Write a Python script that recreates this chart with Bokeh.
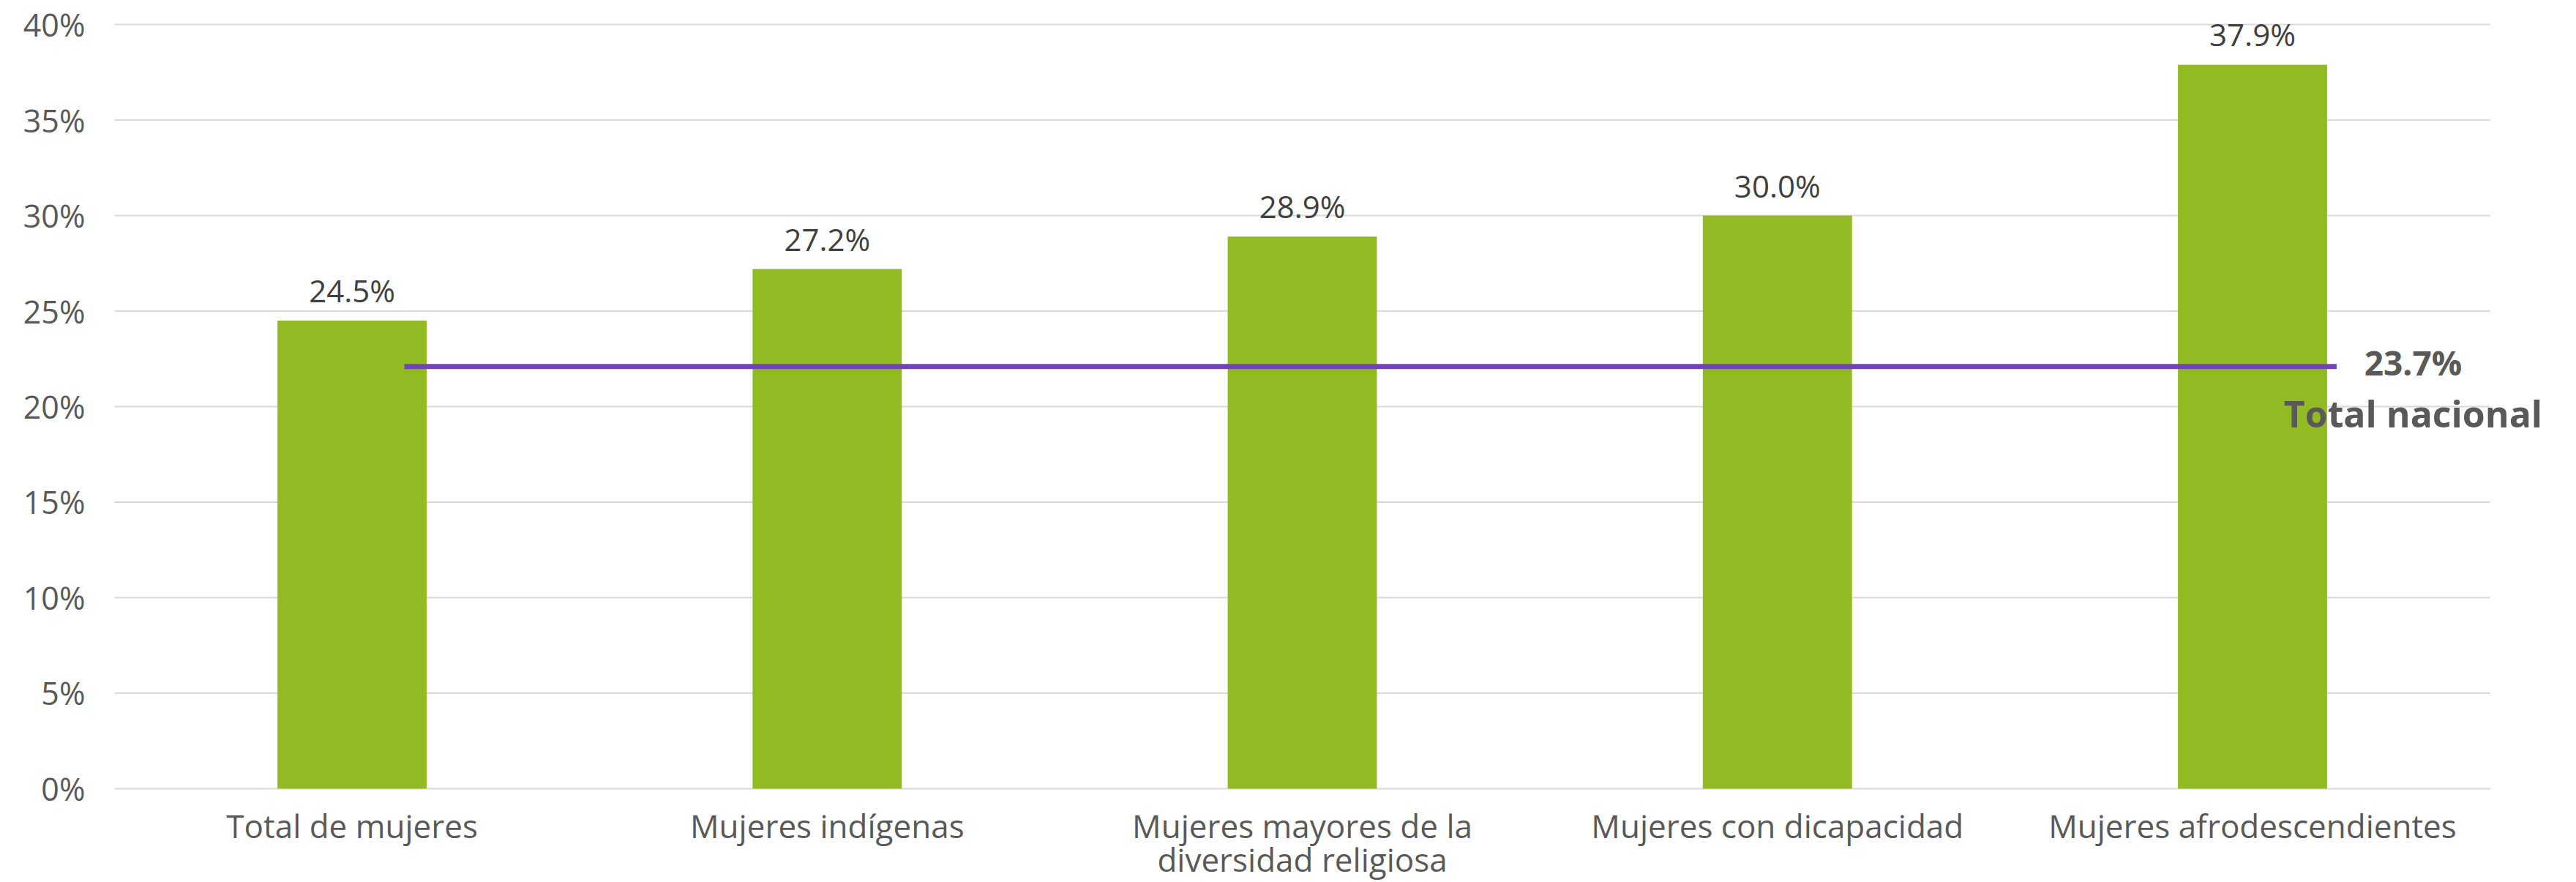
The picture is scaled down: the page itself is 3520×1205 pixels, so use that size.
from bokeh.plotting import figure
from bokeh.models import Range1d, FixedTicker, PrintfTickFormatter, ColumnDataSource, Label
from bokeh.core.properties import value
from bokeh.embed import file_html
from bokeh.resources import INLINE

categories = ["Total de mujeres", "Mujeres indígenas", "Mujeres mayores de la\ndiversidad religiosa",
              "Mujeres con dicapacidad", "Mujeres afrodescendientes"]
values = [24.5, 27.2, 28.9, 30.0, 37.9]
value_labels = ["24.5%", "27.2%", "28.9%", "30.0%", "37.9%"]
nacional_label = "23.7%"
nacional_line_level = 22.1  # level at which the reference line is drawn in the picture
y_ticks = [0, 5, 10, 15, 20, 25, 30, 35, 40]

FONT = "Open Sans"
TXT = "#595959"

n = len(categories)
xpos = [i + 0.5 for i in range(n)]

p = figure(x_range=Range1d(0, 5.12), y_range=Range1d(-4.91, 40.77),
           width=3520, height=1205, output_backend="svg", toolbar_location=None,
           x_axis_location=None,
           min_border_left=156, min_border_right=40, min_border_top=13, min_border_bottom=0)
p.outline_line_color = None
p.background_fill_color = "white"
p.xgrid.grid_line_color = None
p.ygrid.grid_line_color = None

# horizontal gridlines spanning only the category area
p.segment(x0=[0] * len(y_ticks), x1=[n] * len(y_ticks), y0=y_ticks, y1=y_ticks,
          line_color="#D9D9D9", line_width=2)

p.yaxis.ticker = FixedTicker(ticks=y_ticks)
p.yaxis.formatter = PrintfTickFormatter(format="%d%%")
ax = p.yaxis
ax.axis_line_color = None
ax.major_tick_line_color = None
ax.minor_tick_line_color = None
ax.major_tick_out = 0
ax.major_tick_in = 0
ax.major_label_text_font = FONT
ax.major_label_text_font_size = "43px"
ax.major_label_text_color = TXT
ax.major_label_standoff = 40

# category labels under the baseline
p.text(x=xpos, y=[0] * n, text=categories, y_offset=21, text_align="center",
       text_baseline="top", text_font=value(FONT), text_font_size="44px",
       text_color=TXT, text_line_height=0.76)

src = ColumnDataSource(dict(x=xpos, y=values, lbl=value_labels))
p.vbar(x="x", top="y", width=0.314, source=src, fill_color="#92BB23", line_color=None)
p.text(x="x", y="y", text="lbl", source=src, y_offset=-13, text_align="center",
       text_baseline="bottom", text_font=value(FONT), text_font_size="42px",
       text_color="#404040")

p.line(x=[xpos[0] + 0.11, xpos[-1] + 0.177], y=[nacional_line_level, nacional_line_level],
       line_color="#7442B8", line_width=7)

p.add_layout(Label(x=xpos[-1] + 0.338, y=nacional_line_level, y_offset=6, text=nacional_label,
                   text_align="center", text_baseline="middle", text_font=FONT,
                   text_font_size="46px", text_font_style="bold", text_color=TXT))
p.add_layout(Label(x=xpos[-1] + 0.338, y=nacional_line_level, y_offset=-64, text="Total nacional",
                   text_align="center", text_baseline="middle", text_font=FONT,
                   text_font_size="50px", text_font_style="bold", text_color=TXT))

open("out.html", "w").write(file_html(p, INLINE))
